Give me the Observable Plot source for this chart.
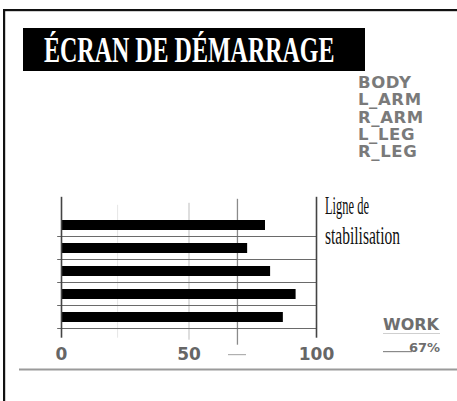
<!DOCTYPE html>
<html><head><meta charset="utf-8">
<script src="https://cdn.jsdelivr.net/npm/d3@7"></script>
<script src="https://cdn.jsdelivr.net/npm/@observablehq/plot@0.6"></script>
<style>
body{margin:0;background:#fff;}
#wrap{position:relative;width:457px;height:401px;overflow:hidden;background:#fff;}
#wrap > svg{position:absolute;left:0;top:0;}
</style></head><body><div id="wrap"></div>
<script>
const title = "ÉCRAN DE DÉMARRAGE";
const parts = ["BODY", "L_ARM", "R_ARM", "L_LEG", "R_LEG"];
const values = [80, 73, 82, 92, 87];
const tickValues = [0, 50, 100];
const gridFaint = [22];
const gridLight = [50];
const gridMid = [69];
const axisLines = [0, 100];
const annotation = ["Ligne de", "stabilisation"];
const workLabel = "WORK";
const workValue = "67%";

const data = parts.map((p, i) => ({part: p, value: values[i]}));

const chart = Plot.plot({
  width: 457, height: 401,
  marginLeft: 61, marginRight: 141, marginTop: 212.8, marginBottom: 71.3,
  style: {fontFamily: "DejaVu Sans", background: "transparent"},
  x: {domain: [0, 100], axis: null},
  y: {domain: parts, paddingInner: 0.58, paddingOuter: 0.29, axis: null},
  marks: [
    Plot.ruleX(gridFaint, {stroke: "#e6e6e6", insetTop: -8, insetBottom: -8}),
    Plot.ruleX(gridLight, {stroke: "#bdbdbd", insetTop: -10, insetBottom: -10}),
    Plot.ruleX(gridMid, {stroke: "#8a8a8a", strokeWidth: 1.3, insetTop: -14, insetBottom: -15}),
    Plot.ruleY(parts, {y: d => d, dy: 11, x1: -1.5, x2: 100, stroke: "#6a6a6a", strokeWidth: 1.2}),
    Plot.barX(data, {x: "value", y: "part", fill: "#000"}),
    Plot.ruleX(axisLines, {stroke: "#444", strokeWidth: 1.6, insetTop: -16, insetBottom: -8}),
    Plot.axisX(tickValues, {tickSize: 0, tickPadding: 18, label: null})
  ]
});
d3.select(chart).select('g[aria-label="x-axis tick label"]')
  .attr("fill", "#666").attr("font-size", 17).attr("font-weight", "bold").attr("font-family", "DejaVu Sans");
d3.select(chart).selectAll('g[aria-label="x-axis tick label"] text')
  .attr("font-size", 17).attr("font-weight", "bold").attr("fill", "#666");

const wrap = document.getElementById("wrap");
wrap.appendChild(chart);

const svg = d3.select(wrap).append("svg")
  .attr("width", 457).attr("height", 401).style("pointer-events", "none");

// frame
svg.append("rect").attr("x", 3).attr("y", 9).attr("width", 2.2).attr("height", 392).attr("fill", "#111");
svg.append("rect").attr("x", 3).attr("y", 9).attr("width", 454).attr("height", 2.2).attr("fill", "#111");
// screen bottom edge
svg.append("rect").attr("x", 19).attr("y", 368.5).attr("width", 438).attr("height", 2).attr("fill", "#9a9a9a");
// small dash on the screen near the axis
svg.append("rect").attr("x", 228).attr("y", 354).attr("width", 18).attr("height", 1.2).attr("fill", "#b0b0b0");

// title
svg.append("rect").attr("x", 23).attr("y", 28).attr("width", 342).attr("height", 43).attr("fill", "#000");
svg.append("text").attr("transform", "translate(44,62) scale(1,1.5)")
  .attr("font-family", "Liberation Serif").attr("font-weight", "bold").attr("font-size", 24)
  .attr("fill", "#fff")
  .text(title);

// part list
svg.append("g").selectAll("text").data(parts).join("text")
  .attr("x", 358).attr("y", (d, i) => 88 + i * 17.3)
  .attr("font-family", "DejaVu Sans").attr("font-weight", "bold").attr("font-size", 16.5)
  .attr("letter-spacing", 0.6)
  .attr("fill", "#7a7a7a").text(d => d);

// annotation (condensed serif: scale horizontally to the measured widths)
const annWidths = [44, 75];
svg.append("g").selectAll("text").data(annotation).join("text")
  .attr("font-family", "Liberation Serif").attr("font-size", 25).attr("fill", "#111")
  .text(d => d)
  .each(function (d, i) {
    const w = this.getComputedTextLength();
    const sx = annWidths[i] / w;
    d3.select(this).attr("transform", `translate(325,${214 + i * 29.5}) scale(${sx},1)`);
  });

// work box
svg.append("text").attr("x", 383).attr("y", 330)
  .attr("font-family", "DejaVu Sans").attr("font-weight", "bold").attr("font-size", 16)
  .attr("fill", "#6e6e6e").text(workLabel);
svg.append("rect").attr("x", 383).attr("y", 333).attr("width", 57).attr("height", 1).attr("fill", "#cfcfcf");
svg.append("rect").attr("x", 383).attr("y", 351).attr("width", 29).attr("height", 1.2).attr("fill", "#8a8a8a");
svg.append("text").attr("x", 440).attr("y", 352).attr("text-anchor", "end")
  .attr("font-family", "DejaVu Sans").attr("font-weight", "bold").attr("font-size", 13)
  .attr("fill", "#6e6e6e").text(workValue);
</script></body></html>
